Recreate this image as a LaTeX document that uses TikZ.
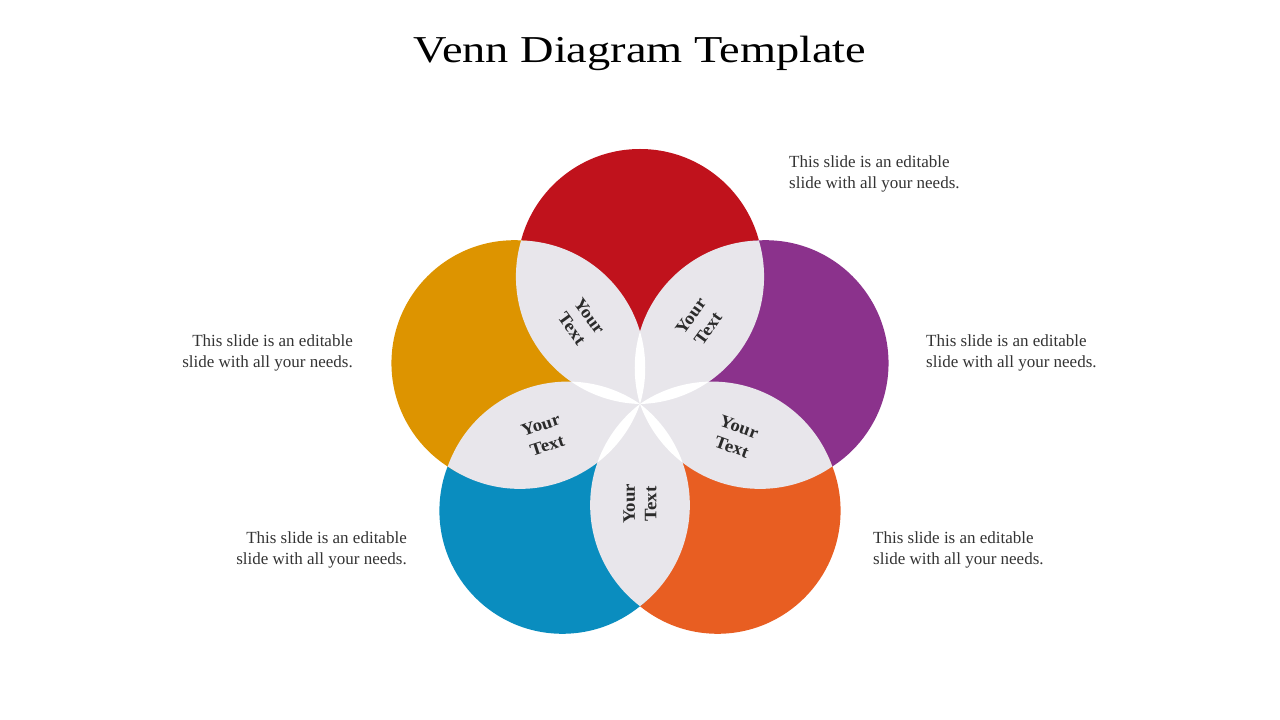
\documentclass[tikz,border=0pt]{standalone}
\usepackage{fontspec}
\setmainfont{Liberation Serif}
\newfontfamily\titlefont[FakeStretch=1.22]{Liberation Serif}
\newfontfamily\lensfont[FakeStretch=1.08]{Liberation Serif}
\usepackage{xcolor}
\usepackage{tikz}
\usetikzlibrary{positioning}
\definecolor{vennred}{RGB}{192,18,28}
\definecolor{vennyellow}{RGB}{221,148,0}
\definecolor{vennpurple}{RGB}{139,50,140}
\definecolor{vennblue}{RGB}{10,141,191}
\definecolor{vennorange}{RGB}{232,94,34}
\definecolor{lensgray}{RGB}{232,230,235}
\definecolor{notegray}{RGB}{51,51,51}
\tikzset{
  titletext/.style={font=\titlefont\fontsize{38}{42}\selectfont, text=black, inner sep=0pt, anchor=base},
  sidenote/.style={font=\fontsize{17}{21}\selectfont, text=notegray, inner sep=0pt},
  sidenoteleft/.style={sidenote, anchor=east, align=right},
  sidenoteright/.style={sidenote, anchor=west, align=left},
  lenslabel/.style={font=\lensfont\bfseries\fontsize{17.5}{21.5}\selectfont, text=notegray!85!black, align=center, inner sep=0pt},
}

\begin{document}
\begin{tikzpicture}[x=1pt, y=1pt]
  \useasboundingbox (-640,-316) rectangle (640,404);

  % Title
  \node[titletext] (title) at (0,341) {Venn Diagram Template};

  % Circles
  \fill[vennred]    (90:132)   circle (123);
  \fill[vennpurple] (18:132)   circle (123);
  \fill[vennorange] (-54:132)  circle (123);
  \fill[vennblue]   (-126:132) circle (123);
  \fill[vennyellow] (162:132)  circle (123);

  % Overlaps
  \foreach \a in {54,-18,-90,-162,126} {
    \begin{scope}
      \clip ({\a+37.5}:127.4) circle (127.4);
      \fill[lensgray] ({\a-37.5}:127.4) circle (127.4);
    \end{scope}
  }

  % White gaps at the centre
  \foreach \b in {90,18,-54,-126,162} {
    \begin{scope}
      \clip ({\b+73.5}:127.4) circle (127.4);
      \clip ({\b-73.5}:127.4) circle (127.4);
      \fill[white] (0,0) circle (80);
    \end{scope}
  }

  % Overlap labels
  \node[lenslabel, rotate=-54] (lensYR) at (126:101) {Your\\Text};
  \node[lenslabel, rotate=54]  (lensRP) at (54:101)  {Your\\Text};
  \node[lenslabel, rotate=-20] (lensPO) at (-19:101) {Your\\Text};
  \node[lenslabel, rotate=90]  (lensOB) at (-90:100) {Your\\Text};
  \node[lenslabel, rotate=18]  (lensBY) at (198:101) {Your\\Text};

  % Side notes
  \node[sidenoteright] (noteTR) at (149,230)  {This slide is an editable\\slide with all your needs.};
  \node[sidenoteleft]  (noteL)  at (-287,51)  {This slide is an editable\\slide with all your needs.};
  \node[sidenoteright] (noteR)  at (286,51)   {This slide is an editable\\slide with all your needs.};
  \node[sidenoteleft]  (noteBL) at (-233,-146) {This slide is an editable\\slide with all your needs.};
  \node[sidenoteright] (noteBR) at (233,-146) {This slide is an editable\\slide with all your needs.};
\end{tikzpicture}
\end{document}
